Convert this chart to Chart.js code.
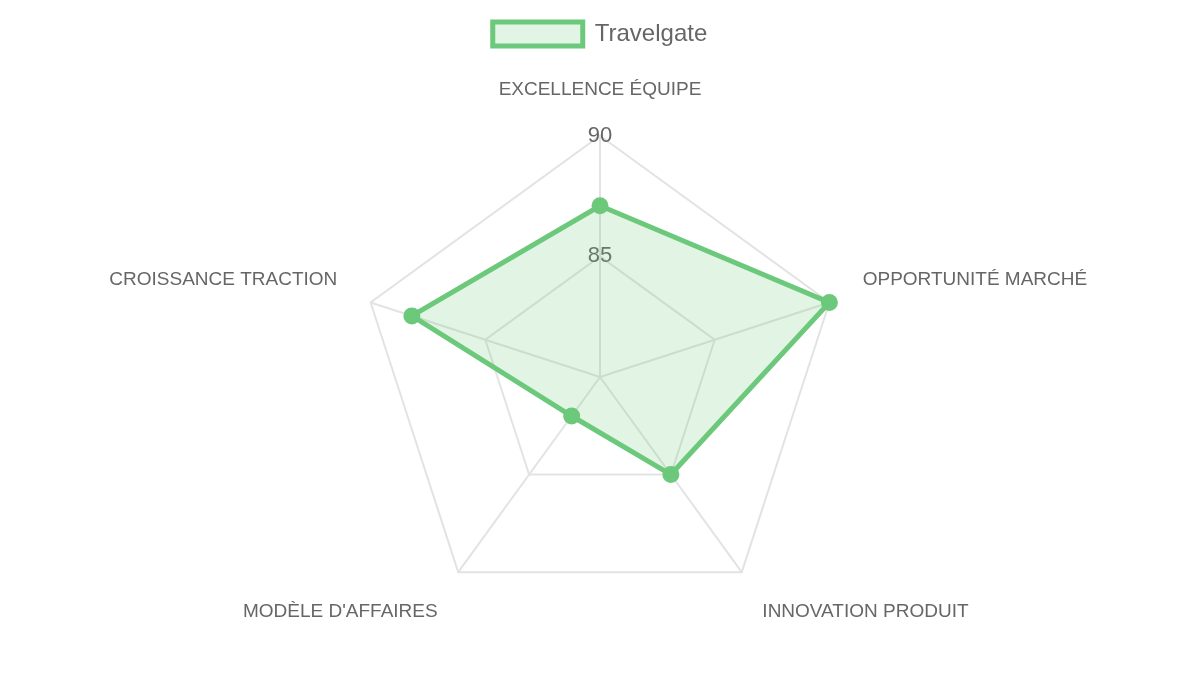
<!DOCTYPE html>
<html>
<head>
<meta charset="utf-8">
<script src="https://cdn.jsdelivr.net/npm/chart.js@4"></script>
<style>
  html, body { margin: 0; padding: 0; background: #fff; }
  #wrap { width: 1200px; height: 675px; }
</style>
</head>
<body>
<div id="wrap"><canvas id="chart"></canvas></div>
<script>
// Axis labels and scores
const categories = ['EXCELLENCE ÉQUIPE', 'OPPORTUNITÉ MARCHÉ', 'INNOVATION PRODUIT', "MODÈLE D'AFFAIRES", 'CROISSANCE TRACTION'];
const scores = [87.1, 90, 85, 82, 88.2];
const seriesName = 'Travelgate';

const green = 'rgb(108, 200, 122)';

new Chart(document.getElementById('chart'), {
    type: 'radar',
    data: {
        labels: categories,
        datasets: [{
            label: seriesName,
            data: scores,
            borderColor: green,
            backgroundColor: 'rgba(108, 200, 122, 0.2)',
            borderWidth: 5,
            pointRadius: 6,
            pointBackgroundColor: green,
            pointBorderColor: green
        }]
    },
    options: {
        responsive: true,
        maintainAspectRatio: false,
        animation: false,
        layout: { padding: { top: 0, bottom: 20 } },
        plugins: {
            legend: {
                position: 'top',
                labels: {
                    font: { family: 'Liberation Sans', size: 24 },
                    color: '#666',
                    boxWidth: 90,
                    boxHeight: 24,
                    padding: 22
                }
            }
        },
        scales: {
            r: {
                min: 80,
                max: 90,
                ticks: {
                    stepSize: 5,
                    font: { family: 'Liberation Sans', size: 22 },
                    color: '#666',
                    backdropColor: 'transparent',
                    callback: (v) => v === 80 ? '' : v
                },
                pointLabels: {
                    font: { family: 'Liberation Sans', size: 19 },
                    color: '#666',
                    padding: 22
                },
                grid: { color: '#e3e3e3', lineWidth: 2 },
                angleLines: { color: '#e3e3e3', lineWidth: 2 }
            }
        }
    }
});
</script>
</body>
</html>
